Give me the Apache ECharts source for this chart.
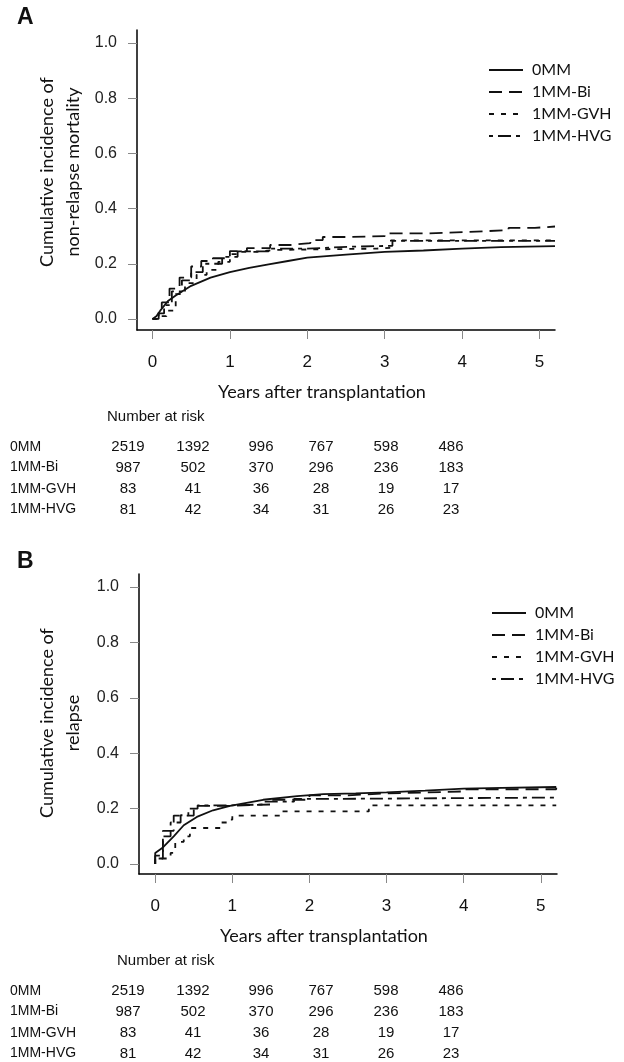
<!DOCTYPE html>
<html><head><meta charset="utf-8">
<script src="https://cdn.jsdelivr.net/npm/echarts@6/dist/echarts.min.js"></script>
<style>html,body{margin:0;padding:0;background:#fff}#c{width:624px;height:1062px}</style>
</head><body><div id="c"></div>
<script>
// ---------- data ----------
const groups = ['0MM', '1MM-Bi', '1MM-GVH', '1MM-HVG'];
const xTicks = [0, 1, 2, 3, 4, 5];
const yTicks = [0, 0.2, 0.4, 0.6, 0.8, 1.0];

// Panel A: cumulative incidence of non-relapse mortality [years, value]
const nrm0MM = [[0,0],[0.05,0.01],[0.1,0.03],[0.2,0.065],[0.3,0.085],[0.5,0.12],[0.75,0.15],[1,0.17],[1.25,0.185],[1.5,0.198],[1.75,0.21],[2,0.222],[2.5,0.233],[3,0.243],[3.5,0.248],[4,0.255],[4.5,0.26],[5.2,0.264]];
const nrmBi = [[0,0],[0.08,0.03],[0.12,0.06],[0.22,0.11],[0.35,0.15],[0.5,0.19],[0.63,0.21],[0.78,0.22],[1.0,0.246],[1.22,0.257],[1.52,0.268],[1.78,0.275],[2.04,0.286],[2.2,0.297],[2.56,0.3],[3.0,0.31],[3.55,0.315],[4.08,0.322],[4.6,0.33],[4.94,0.335],[5.2,0.336]];
const nrmGVH = [[0,0],[0.1,0.01],[0.18,0.03],[0.3,0.09],[0.42,0.13],[0.57,0.16],[0.7,0.178],[0.85,0.207],[1.0,0.235],[1.13,0.243],[1.35,0.25],[1.56,0.255],[2.9,0.258],[3.08,0.285],[5.2,0.285]];
const nrmHVG = [[0,0],[0.08,0.02],[0.15,0.05],[0.25,0.1],[0.38,0.14],[0.5,0.17],[0.65,0.2],[0.9,0.225],[1.1,0.245],[1.5,0.255],[2.0,0.262],[2.6,0.265],[3.1,0.283],[5.2,0.283]];

// Panel B: cumulative incidence of relapse
const rel0MM = [[0,0],[0,0.04],[0.1,0.06],[0.24,0.1],[0.37,0.14],[0.54,0.17],[0.75,0.194],[0.97,0.21],[1.4,0.232],[1.84,0.245],[2.18,0.252],[2.6,0.255],[3,0.259],[3.5,0.265],[4,0.272],[4.5,0.275],[5.2,0.278]];
const relBi = [[0,0],[0,0.03],[0.1,0.12],[0.24,0.175],[0.5,0.21],[1.0,0.215],[1.5,0.232],[2.0,0.248],[2.5,0.255],[3.0,0.262],[4.0,0.27],[5.2,0.275]];
const relGVH = [[0,0],[0,0.02],[0.2,0.04],[0.26,0.08],[0.37,0.1],[0.45,0.13],[0.85,0.15],[0.93,0.16],[1.0,0.175],[1.65,0.19],[2.77,0.212],[5.2,0.212]];
const relHVG = [[0,0],[0,0.02],[0.1,0.1],[0.2,0.15],[0.33,0.176],[0.43,0.2],[0.55,0.212],[1.0,0.215],[1.4,0.225],[1.8,0.235],[2.2,0.24],[5.2,0.24]];

// Number at risk (years 0..5)
const risk0MM = [2519, 1392, 996, 767, 598, 486];
const riskBi = [987, 502, 370, 296, 236, 183];
const riskGVH = [83, 41, 36, 28, 19, 17];
const riskHVG = [81, 42, 34, 31, 26, 23];
const riskRows = [risk0MM, riskBi, riskGVH, riskHVG];

// ---------- styles ----------
const dashes = { '0MM': 'solid', '1MM-Bi': [13, 7], '1MM-GVH': [5, 7], '1MM-HVG': [4, 5, 13, 5] };
const INK = '#111';
const SANS = "'Liberation Sans', Arial, sans-serif";
const SOFT = "Lato, 'Open Sans', sans-serif";

function xAx(gi, min, max) {
  return {
    gridIndex: gi, type: 'value', min, max,
    axisLine: { show: true, onZero: false, lineStyle: { color: '#000', width: 1.5 } },
    axisTick: { show: true, customValues: xTicks, length: 9, lineStyle: { color: '#888', width: 1 } },
    axisLabel: { customValues: xTicks, fontSize: 17, color: INK, margin: 24, fontFamily: SANS, formatter: v => String(Math.round(v)) },
    splitLine: { show: false }
  };
}
function yAx(gi, min, max) {
  return {
    gridIndex: gi, type: 'value', min, max,
    axisLine: { show: true, onZero: false, lineStyle: { color: '#000', width: 1.5 } },
    axisTick: { show: true, customValues: yTicks, length: 9, lineStyle: { color: '#888', width: 1 } },
    axisLabel: { customValues: yTicks, fontSize: 16, color: '#222', margin: 20, fontFamily: SANS, formatter: v => v.toFixed(1) },
    splitLine: { show: false }
  };
}
function ser(name, data, gi) {
  return {
    name, type: 'line', data, xAxisIndex: gi, yAxisIndex: gi,
    step: name === '0MM' ? false : 'end', symbol: 'none', silent: true,
    itemStyle: { color: INK },
    lineStyle: { color: INK, width: name === '0MM' ? 1.8 : 1.8, type: dashes[name] },
    z: name === '0MM' ? 5 : 3
  };
}

const graphics = [];
function txt(x, y, text, font, opts) {
  graphics.push(Object.assign({ type: 'text', x, y, silent: true,
    style: Object.assign({ text, fill: INK, font, textAlign: 'left', textVerticalAlign: 'middle' }, (opts && opts.style) || {}) },
    (opts && opts.el) || {}));
}
const colX = [128, 193, 261, 321, 386, 451];
function panelText(off, letter, ytitle, ytitleY, yearsX, narX) {
  txt(17, 18 + off, letter, "bold 23px " + SANS);
  txt(60, ytitleY + off, ytitle, "18px " + SOFT,
    { style: { textAlign: 'center', lineHeight: 26 }, el: { rotation: Math.PI / 2 } });
  txt(yearsX, 392 + off, 'Years after transplantation', "18px " + SOFT, { style: { textAlign: 'center' } });
  txt(narX, 417 + off, 'Number at risk', "15px " + SANS);
  const rowY = [447, 467.5, 489, 509.5];
  groups.forEach((g, r) => {
    txt(10, rowY[r] + off, g, "14px " + SANS);
    riskRows[r].forEach((n, c) => txt(colX[c], rowY[r] + off, String(n), "15px " + SANS, { style: { textAlign: 'center' } }));
  });
}
panelText(0, 'A', 'Cumulative incidence of\nnon-relapse mortality', 172, 322, 107);
panelText(544, 'B', 'Cumulative incidence of\nrelapse', 179, 324, 117);

function legend(left, top) {
  return {
    orient: 'vertical', left, top, data: groups, selectedMode: false, padding: 0,
    itemWidth: 34, itemHeight: 12, itemGap: 6,
    itemStyle: { opacity: 0 },
    textStyle: { fontFamily: SOFT, fontSize: 16, color: INK, padding: [0, 0, 0, 4] }
  };
}

const option = {
  animation: false,
  backgroundColor: '#fff',
  color: [INK, INK, INK, INK],
  grid: [
    { left: 137, top: 30, width: 418, height: 300 },
    { left: 139, top: 574, width: 418, height: 300 }
  ],
  xAxis: [xAx(0, -0.2, 5.2), xAx(1, -0.21, 5.21)],
  yAxis: [yAx(0, -0.04, 1.047), yAx(1, -0.036, 1.047)],
  legend: [legend(488, 62), legend(491, 605)],
  series: [
    ser('0MM', nrm0MM, 0), ser('1MM-Bi', nrmBi, 0), ser('1MM-GVH', nrmGVH, 0), ser('1MM-HVG', nrmHVG, 0),
    ser('0MM', rel0MM, 1), ser('1MM-Bi', relBi, 1), ser('1MM-GVH', relGVH, 1), ser('1MM-HVG', relHVG, 1)
  ],
  graphic: graphics
};
const chart = echarts.init(document.getElementById('c'), null, { renderer: 'canvas' });
chart.setOption(option);
</script></body></html>
